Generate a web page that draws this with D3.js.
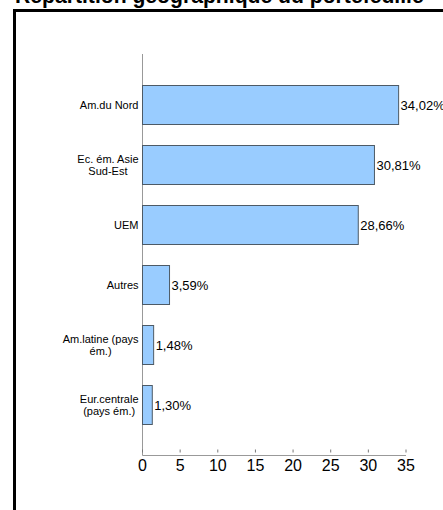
<!DOCTYPE html>
<html>
<head>
  <meta charset="utf-8" />
  <style>
    body { margin: 0; background: #fff; }
    text { font-family: Arial, "Liberation Sans", sans-serif; fill: #000; }
  </style>
</head>
<body>
  <svg id="container" width="443" height="510"></svg>
  <script src="https://cdn.jsdelivr.net/npm/d3@7/dist/d3.min.js"></script>
<script>
var title = 'Répartition géographique du portefeuille';
var categories = [
  ['Am.du Nord'],
  ['Ec. ém. Asie', 'Sud-Est'],
  ['UEM'],
  ['Autres'],
  ['Am.latine (pays', 'ém.)'],
  ['Eur.centrale', '(pays ém.)']
];
var values = [34.02, 30.81, 28.66, 3.59, 1.48, 1.30];
var labels = ['34,02%', '30,81%', '28,66%', '3,59%', '1,48%', '1,30%'];
var ticks = [0, 5, 10, 15, 20, 25, 30, 35];

var svg = d3.select('#container');

// outer frame, cropped on the right and bottom
svg.append('rect')
  .attr('x', 14.5).attr('y', 10.5)
  .attr('width', 600).attr('height', 600)
  .attr('fill', 'none').attr('stroke', '#000').attr('stroke-width', 3);

// title, mostly cut off by the top edge
var t = svg.append('text')
  .attr('x', 15).attr('y', 3)
  .attr('font-weight', 'bold')
  .attr('font-size', 17)
  .text(title);
var w = t.node().getComputedTextLength();
t.attr('font-size', 17 * 409 / w);

var x = d3.scaleLinear().domain([0, 35]).range([142.5, 406]);
var y = d3.scaleBand()
  .domain(d3.range(values.length))
  .range([75, 435])
  .paddingInner(1 / 3)
  .paddingOuter(1 / 6);

// vertical axis line
svg.append('line')
  .attr('x1', x(0)).attr('x2', x(0))
  .attr('y1', 54).attr('y2', 455.5)
  .attr('stroke', '#999').attr('stroke-width', 1);

// bars
svg.selectAll('rect.bar')
  .data(values)
  .enter().append('rect')
  .attr('class', 'bar')
  .attr('x', x(0))
  .attr('y', function (d, i) { return y(i) + 0.5; })
  .attr('width', function (d) { return x(d) - x(0); })
  .attr('height', y.bandwidth() - 1)
  .attr('fill', '#99ccff')
  .attr('stroke', '#4d5a66')
  .attr('stroke-width', 1);

// value labels
svg.selectAll('text.val')
  .data(values)
  .enter().append('text')
  .attr('class', 'val')
  .attr('x', function (d) { return x(d) + 2; })
  .attr('y', function (d, i) { return y(i) + y.bandwidth() / 2; })
  .attr('dy', '0.35em')
  .attr('font-size', 13)
  .text(function (d, i) { return labels[i]; });

// category labels: block right aligned, lines centred within it
var lineH = 12.5;
categories.forEach(function (lines, i) {
  var g = svg.append('text').attr('font-size', 11).attr('text-anchor', 'middle');
  var cy = y(i) + y.bandwidth() / 2;
  var spans = lines.map(function (s, k) {
    return g.append('tspan')
      .attr('y', cy + (k - (lines.length - 1) / 2) * lineH)
      .attr('dy', '0.35em')
      .text(s);
  });
  var maxW = d3.max(spans, function (s) { return s.node().getComputedTextLength(); });
  spans.forEach(function (s) { s.attr('x', 138.5 - maxW / 2); });
});

// bottom axis
var axis = svg.append('g').attr('transform', 'translate(0,455.5)');
axis.append('line')
  .attr('x1', x(0)).attr('x2', x(35))
  .attr('stroke', '#999');
axis.selectAll('line.tick')
  .data(ticks)
  .enter().append('line')
  .attr('class', 'tick')
  .attr('x1', function (d) { return x(d); })
  .attr('x2', function (d) { return x(d); })
  .attr('y1', -6).attr('y2', -3)
  .attr('stroke', '#777');
axis.selectAll('text')
  .data(ticks)
  .enter().append('text')
  .attr('x', function (d) { return x(d); })
  .attr('y', 15.5)
  .attr('text-anchor', 'middle')
  .attr('font-size', 16)
  .text(function (d) { return d; });
</script>
</body>
</html>
